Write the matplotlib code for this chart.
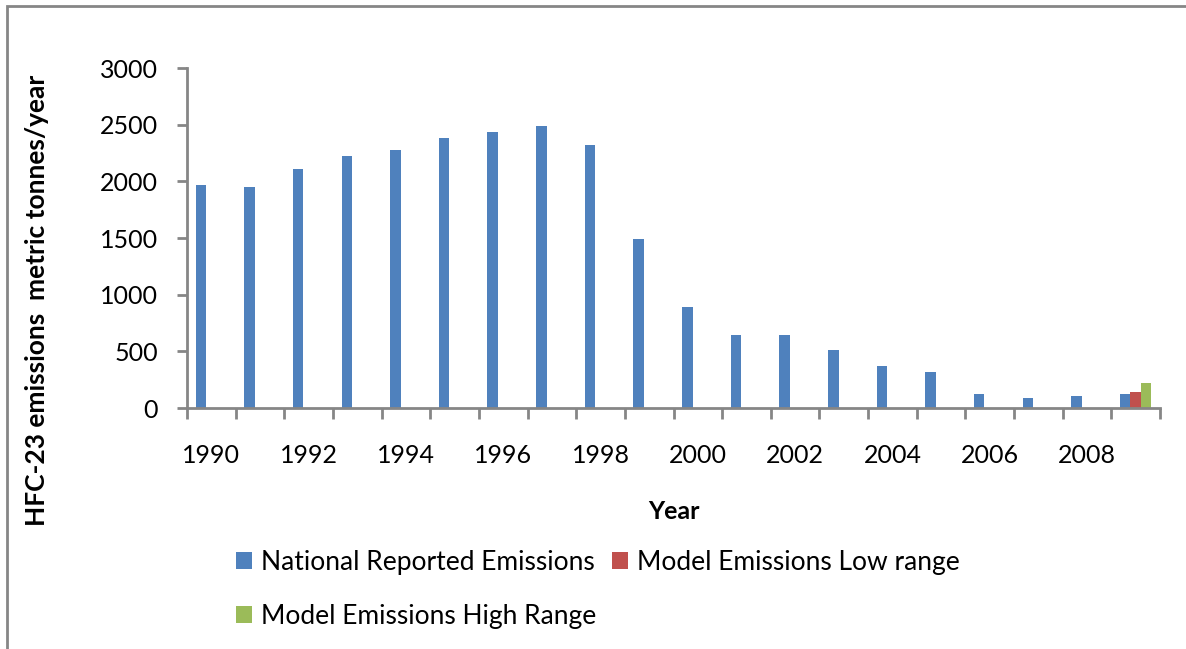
import matplotlib
matplotlib.use('Agg')
import matplotlib.pyplot as plt
from matplotlib.patches import Patch, Rectangle
import numpy as np

years = list(range(1990, 2010))
national = [1970, 1950, 2110, 2220, 2280, 2380, 2435, 2490, 2320, 1490,
            895, 645, 645, 510, 375, 318, 124, 85, 106, 124]
model_low = [0] * 19 + [144]
model_high = [0] * 19 + [223]

labels = ['National Reported Emissions', 'Model Emissions Low range', 'Model Emissions High Range']
colors = ['#4F81BD', '#C0504D', '#9BBB59']

plt.rcParams['font.family'] = ['Lato', 'DejaVu Sans']
grey = '#868686'

fig = plt.figure(figsize=(11.86, 6.49), dpi=100)
ax = fig.add_axes([187 / 1186, 1 - 408 / 649, (1160 - 187) / 1186, (408 - 68) / 649])

x = np.arange(len(years))
width = 0.216
ax.bar(x - width, national, width=width, color=colors[0])
ax.bar(x, model_low, width=width, color=colors[1])
ax.bar(x + width, model_high, width=width, color=colors[2])

ax.set_xlim(-0.5, len(years) - 0.5)
ax.set_ylim(0, 3000)
ax.set_yticks(np.arange(0, 3001, 500))
ax.tick_params(axis='y', labelsize=18, length=7, width=2, color=grey, pad=14)

# ticks on category boundaries, labels every second year
ax.set_xticks(np.arange(-0.5, len(years), 1))
ax.set_xticklabels([])
ax.set_xticks(x[::2], minor=True)
ax.set_xticklabels([str(y) for y in years[::2]], minor=True)
ax.tick_params(axis='x', which='major', length=8, width=2, color=grey)
ax.tick_params(axis='x', which='minor', length=0, labelsize=18, pad=26)

for s in ['top', 'right']:
    ax.spines[s].set_visible(False)
for s in ['left', 'bottom']:
    ax.spines[s].set_color(grey)
    ax.spines[s].set_linewidth(2)

ax.set_xlabel('Year', fontsize=18, weight='bold', labelpad=24)
fig.text(37 / 1186, 1 - 300 / 649, 'HFC-23 emissions  metric tonnes/year', rotation=90,
         fontsize=19, weight='bold', ha='center', va='center')

handles = [Patch(facecolor=c, label=l) for c, l in zip(colors, labels)]
order = [0, 2, 1]
fig.legend(handles=[handles[i] for i in order], ncol=2, frameon=False, fontsize=19,
           loc='upper left', bbox_to_anchor=(236 / 1186, 1 - 550 / 649),
           borderpad=0, borderaxespad=0,
           handlelength=0.6, handleheight=0.6, handletextpad=0.35,
           columnspacing=0.6, labelspacing=1.1)

fig.patches.append(Rectangle((7 / 1186, -0.02), 1.05, 1 - 6 / 649 + 0.02, transform=fig.transFigure,
                             fill=False, edgecolor=grey, linewidth=2))

fig.savefig('out.png', dpi=100)
